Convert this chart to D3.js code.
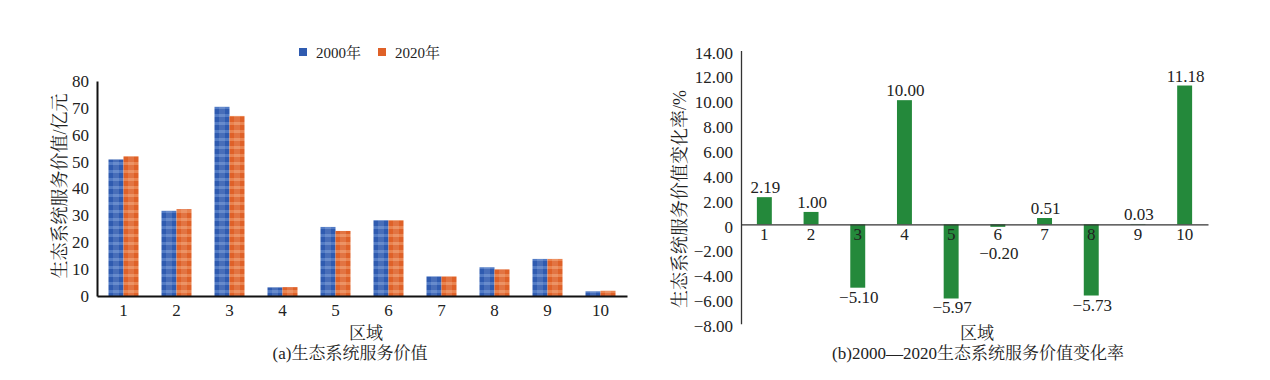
<!DOCTYPE html>
<html><head><meta charset="utf-8">
<script src="https://cdn.jsdelivr.net/npm/d3@7"></script>
<style>
html,body{margin:0;padding:0;background:#fff;}
svg{display:block;}
text{font-family:"Liberation Serif","Noto Serif CJK SC","Noto Sans CJK SC",serif;fill:#222;}
</style></head>
<body>
<svg id="chart" width="1270" height="380"></svg>
<script>
// ---------- data ----------
const categories = ["1","2","3","4","5","6","7","8","9","10"];
const seriesNames = ["2000年","2020年"];
const values2000 = [50.8, 31.7, 70.4, 3.2, 25.7, 28.2, 7.3, 10.7, 13.8, 1.75];
const values2020 = [52.0, 32.3, 67.0, 3.3, 24.2, 28.2, 7.3, 9.9, 13.8, 1.95];
const changeRate = [2.19, 1.00, -5.10, 10.00, -5.97, -0.20, 0.51, -5.73, 0.03, 11.18];
const leftTicks = [0,10,20,30,40,50,60,70,80];
const rightTicks = [-8,-6,-4,-2,0,2,4,6,8,10,12,14];

const svg = d3.select("#chart");
const defs = svg.append("defs");

function makeFill(id, dark, light) {
  const p = defs.append("pattern").attr("id", id).attr("patternUnits","userSpaceOnUse")
    .attr("width", 40).attr("height", 8);
  p.append("rect").attr("width",40).attr("height",8).attr("fill", dark);
  p.append("rect").attr("y",2).attr("width",40).attr("height",3).attr("fill", light).attr("opacity",0.55);
}
makeFill("blueFill", "#2f5bb0", "#6f95d6");
makeFill("orangeFill", "#df6128", "#f2a071");
const seriesFills = ["url(#blueFill)", "url(#orangeFill)"];
const seriesColors = ["#2f5bb0", "#df6128"];

// ---------- left chart ----------
const L = {x0: 97, x1: 627, y0: 296, y1: 81};
const xL = d3.scaleBand().domain(categories).range([L.x0, L.x1]).paddingInner(0.434).paddingOuter(0.217);
const xLs = d3.scaleBand().domain([0,1]).range([0, xL.bandwidth()]);
const yL = d3.scaleLinear().domain([0, 80]).range([L.y0, L.y1]);
const gL = svg.append("g");

const seriesData = [values2000, values2020];
seriesData.forEach((vals, si) => {
  gL.append("g").selectAll("rect").data(vals).enter().append("rect")
    .attr("x", (d,i) => xL(categories[i]) + xLs(si))
    .attr("width", xLs.bandwidth())
    .attr("y", d => yL(d))
    .attr("height", d => yL(0) - yL(d))
    .attr("fill", seriesFills[si]);
  // light vertical sheen
  gL.append("g").selectAll("rect").data(vals).enter().append("rect")
    .attr("x", (d,i) => xL(categories[i]) + xLs(si) + xLs.bandwidth()*0.3)
    .attr("width", xLs.bandwidth()*0.4)
    .attr("y", d => yL(d))
    .attr("height", d => yL(0) - yL(d))
    .attr("fill", "#fff").attr("opacity", 0.12);
});

const yAxisL = d3.axisLeft(yL).tickValues(leftTicks).tickFormat(d3.format("d")).tickSize(0).tickPadding(8);
const gyL = gL.append("g").attr("transform", `translate(${L.x0},0)`).call(yAxisL);
gyL.select(".domain").attr("stroke", "#111").attr("stroke-width", 2);
gyL.selectAll("text").attr("font-size", 17).attr("fill", "#222");

const xAxisL = d3.axisBottom(xL).tickSize(0).tickPadding(8);
const gxL = gL.append("g").attr("transform", `translate(0,${L.y0})`).call(xAxisL);
gxL.select(".domain").attr("stroke", "#111").attr("stroke-width", 2);
gxL.selectAll("text").attr("font-size", 17).attr("fill", "#222");

gL.append("text").attr("transform", `translate(66,186) rotate(-90)`).attr("text-anchor","middle")
  .attr("font-size", 18).text("生态系统服务价值/亿元");
gL.append("text").attr("x", 366).attr("y", 339).attr("text-anchor","middle").attr("font-size", 17).text("区域");
gL.append("text").attr("x", 350).attr("y", 359).attr("text-anchor","middle").attr("font-size", 17).text("(a)生态系统服务价值");

// legend
const legendX = [299, 378];
seriesNames.forEach((n, i) => {
  gL.append("rect").attr("x", legendX[i]).attr("y", 48).attr("width", 8).attr("height", 8).attr("fill", seriesColors[i]);
  gL.append("text").attr("x", legendX[i] + 17).attr("y", 58).attr("font-size", 15).text(n);
});

// ---------- right chart ----------
const R = {x0: 741, x1: 1208, yBot: 323.7, yTop: 50.5};
const xR = d3.scaleBand().domain(categories).range([R.x0, R.x1]).paddingInner(0.68).paddingOuter(0.34);
const yR = d3.scaleLinear().domain([-8, 14]).range([R.yBot, R.yTop]);
const gR = svg.append("g");
const zeroY = yR(0);

gR.append("g").selectAll("rect").data(changeRate).enter().append("rect")
  .attr("x", (d,i) => xR(categories[i]))
  .attr("width", xR.bandwidth())
  .attr("y", d => Math.min(yR(d), zeroY))
  .attr("height", d => Math.abs(yR(d) - zeroY))
  .attr("fill", "#24893b");

const fmtR = v => v === 0 ? "0" : (v < 0 ? "\u2212" : "") + Math.abs(v).toFixed(2);

const yAxisR = d3.axisLeft(yR).tickValues(rightTicks).tickFormat(fmtR).tickSize(0).tickPadding(8);
const gyR = gR.append("g").attr("transform", `translate(${R.x0},0)`).call(yAxisR);
gyR.select(".domain").attr("stroke", "#333").attr("stroke-width", 1.3);
gyR.selectAll("text").attr("font-size", 17).attr("fill", "#222").attr("dy", "0.45em");

const xAxisR = d3.axisBottom(xR).tickSize(0).tickPadding(4);
const gxR = gR.append("g").attr("transform", `translate(0,${zeroY})`).call(xAxisR);
gxR.select(".domain").attr("stroke", "#333").attr("stroke-width", 1.3);
gxR.selectAll("text").attr("font-size", 17).attr("fill", "#222");

gR.append("g").selectAll("text").data(changeRate).enter().append("text")
  .attr("x", (d,i) => xR(categories[i]) + xR.bandwidth()/2 + 1)
  .attr("y", d => d >= 0 ? yR(d) - 4 : Math.max(yR(d) + 15, zeroY + 35))
  .attr("text-anchor", "middle").attr("font-size", 17)
  .text(d => fmtR(d));

gR.append("text").attr("transform", `translate(686,199) rotate(-90)`).attr("text-anchor","middle")
  .attr("font-size", 18).text("生态系统服务价值变化率/%");
gR.append("text").attr("x", 977).attr("y", 339).attr("text-anchor","middle").attr("font-size", 17).text("区域");
gR.append("text").attr("x", 978).attr("y", 359).attr("text-anchor","middle").attr("font-size", 17).text("(b)2000\u20142020生态系统服务价值变化率");
</script>
</body></html>
